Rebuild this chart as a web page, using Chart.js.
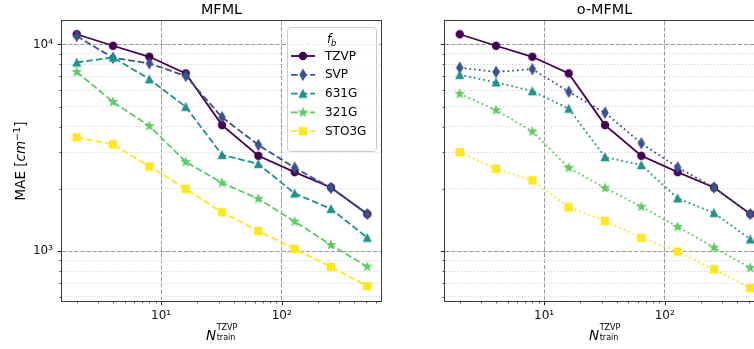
<!DOCTYPE html>
<html lang="en">
<head>
  <meta charset="UTF-8" />
  <title>MFML vs o-MFML learning curves</title>
  <script src="https://cdn.jsdelivr.net/npm/chart.js"></script>
  <style>
    * { margin: 0; padding: 0; box-sizing: border-box; }
    body { width: 754px; height: 349px; overflow: hidden; background: #fff; position: relative; }
    canvas { position: absolute; top: 0; }
    #mfml { left: 0; }
    #omfml { left: 390px; }
  </style>
</head>
<body>
  <canvas id="mfml" width="390" height="349"></canvas>
  <canvas id="omfml" width="380" height="349"></canvas>

  <script>
    const nTrain = [2, 4, 8, 16, 32, 64, 128, 256, 512];
    const fidelities = ['TZVP', 'SVP', '631G', '321G', 'STO3G'];

    // MAE [cm^-1], MFML panel
    const mfmlTZVP  = [11200, 9850, 8710, 7240, 4070, 2890, 2410, 2030, 1510];
    const mfmlSVP   = [10970, 8610, 8090, 7030, 4440, 3260, 2530, 2020, 1510];
    const mfml631G  = [8180, 8650, 6790, 4990, 2920, 2640, 1900, 1600, 1160];
    const mfml321G  = [7360, 5270, 4030, 2700, 2140, 1790, 1390, 1070, 840];
    const mfmlSTO3G = [3550, 3280, 2570, 2000, 1540, 1250, 1025, 838, 677];

    // MAE [cm^-1], o-MFML panel
    const omfmlTZVP  = [11200, 9850, 8710, 7240, 4070, 2890, 2410, 2030, 1510];
    const omfmlSVP   = [7710, 7360, 7590, 5900, 4670, 3320, 2540, 2030, 1510];
    const omfml631G  = [7130, 6550, 5940, 4890, 2850, 2610, 1800, 1530, 1140];
    const omfml321G  = [5770, 4810, 3790, 2530, 2020, 1640, 1310, 1040, 830];
    const omfmlSTO3G = [3010, 2500, 2200, 1630, 1400, 1160, 993, 815, 662];

    const xTicks = [2, 3, 4, 5, 6, 7, 8, 9, 10, 20, 30, 40, 50, 60, 70, 80, 90, 100, 200, 300, 400, 500, 600];
    const yTicks = [600, 700, 800, 900, 1000, 2000, 3000, 4000, 5000, 6000, 7000, 8000, 9000, 10000];
    const xMajor = [10, 100];
    const yMajor = [1000, 10000];
    const xTickLabels = { 10: '10¹', 100: '10²' };
    const yTickLabels = { 1000: '10³', 10000: '10⁴' };

    const colors = ['#440154', '#3b528b', '#21918c', '#5ec962', '#fde725'];
    const markers = ['circle', 'thinDiamond', 'triangle', 'star', 'square'];
    const FONT = '"DejaVu Sans", sans-serif';

    // matplotlib-like markers drawn once into small canvases
    function markerCanvas(shape, color) {
      const c = document.createElement('canvas');
      c.width = 16; c.height = 16;
      const g = c.getContext('2d');
      g.translate(8, 8);
      g.beginPath();
      if (shape === 'circle') {
        g.arc(0, 0, 3.6, 0, Math.PI * 2);
      } else if (shape === 'thinDiamond') {
        g.moveTo(0, -5.1); g.lineTo(3.05, 0); g.lineTo(0, 5.1); g.lineTo(-3.05, 0); g.closePath();
      } else if (shape === 'triangle') {
        g.moveTo(0, -3.6); g.lineTo(3.6, 3.6); g.lineTo(-3.6, 3.6); g.closePath();
      } else if (shape === 'star') {
        for (let i = 0; i < 10; i++) {
          const r = i % 2 ? 1.5 : 3.9;
          const a = -Math.PI / 2 + i * Math.PI / 5;
          g.lineTo(r * Math.cos(a), r * Math.sin(a));
        }
        g.closePath();
      } else {
        g.rect(-3.6, -3.6, 7.2, 7.2);
      }
      g.fillStyle = color;
      g.fill();
      g.lineWidth = 1.2;
      g.strokeStyle = color;
      g.stroke();
      return c;
    }
    const markerImgs = fidelities.map((f, i) => markerCanvas(markers[i], colors[i]));

    function makeDatasets(series, dash) {
      return fidelities.map((name, i) => ({
        label: name,
        data: nTrain.map((n, j) => ({ x: n, y: series[i][j] })),
        borderColor: colors[i],
        backgroundColor: colors[i],
        borderWidth: 1.8,
        borderDash: i === 0 ? [] : dash,
        pointStyle: markerImgs[i],
        pointRadius: 4,
        tension: 0,
        fill: false,
        order: fidelities.length - i
      }));
    }

    function makeScales(showYLabels, yWidth) {
      return {
        x: {
          type: 'logarithmic',
          min: 1.51,
          max: 665,
          afterBuildTicks: s => { s.ticks = xTicks.map(v => ({ value: v })); },
          afterFit: s => { s.height = 48; },
          ticks: {
            autoSkip: false, maxRotation: 0, padding: 8,
            font: { family: FONT, size: 12 }, color: '#111',
            callback: v => xTickLabels[v] || ''
          },
          grid: {
            drawTicks: false, lineWidth: 1,
            color: c => (c.tick && xMajor.includes(c.tick.value)) ? '#9a9a9a' : 'rgba(0,0,0,0)'
          },
          border: { display: false, dash: [4.3, 1.8] }
        },
        y: {
          type: 'logarithmic',
          min: 573,
          max: 12980,
          afterBuildTicks: s => { s.ticks = yTicks.map(v => ({ value: v })); },
          afterFit: s => { s.width = yWidth; },
          ticks: {
            display: showYLabels, autoSkip: false, padding: 9,
            font: { family: FONT, size: 12 }, color: '#111',
            callback: v => yTickLabels[v] || ''
          },
          grid: {
            drawTicks: false, lineWidth: 1,
            color: c => (c.tick && yMajor.includes(c.tick.value)) ? '#9a9a9a' : '#d4d4d4'
          },
          border: {
            display: false,
            dash: c => (c.tick && !yMajor.includes(c.tick.value)) ? [1.2, 2] : [4.3, 1.8]
          }
        }
      };
    }

    // draw a row of text runs centred on x
    function drawRuns(ctx, runs, cx, y) {
      const widths = runs.map(r => { ctx.font = r.font; return ctx.measureText(r.text).width; });
      const total = widths.reduce((s, w) => s + w, 0);
      let x = cx - total / 2;
      runs.forEach((r, i) => {
        ctx.font = r.font;
        ctx.fillText(r.text, x, y + (r.dy || 0));
        x += widths[i];
      });
    }

    // N with stacked superscript / subscript, centred on cx
    function drawXTitle(ctx, cx, y) {
      const fN = 'italic 13.5px ' + FONT;
      const fS = '8px ' + FONT;
      ctx.font = fN;
      const wN = ctx.measureText('N').width;
      ctx.font = fS;
      const wS = Math.max(ctx.measureText('TZVP').width, ctx.measureText('train').width);
      const x0 = cx - (wN + wS) / 2;
      ctx.font = fN;
      ctx.fillText('N', x0, y);
      ctx.font = fS;
      ctx.fillText('TZVP', x0 + wN + 0.5, y - 10);
      ctx.fillText('train', x0 + wN + 0.5, y + 0.5);
    }

    function decoPlugin(title, withLegend, dash) {
      return {
        id: 'deco',
        afterDraw(chart) {
          const { ctx, chartArea: a, scales } = chart;
          ctx.save();
          ctx.strokeStyle = '#222';

          // tick marks (major longer than minor)
          xTicks.forEach(v => {
            const px = Math.round(scales.x.getPixelForValue(v)) + 0.5;
            const major = xMajor.includes(v);
            ctx.lineWidth = major ? 1 : 0.8;
            ctx.beginPath();
            ctx.moveTo(px, a.bottom);
            ctx.lineTo(px, a.bottom + (major ? 4.2 : 2.4));
            ctx.stroke();
          });
          yTicks.forEach(v => {
            const py = Math.round(scales.y.getPixelForValue(v)) + 0.5;
            const major = yMajor.includes(v);
            ctx.lineWidth = major ? 1 : 0.8;
            ctx.beginPath();
            ctx.moveTo(a.left, py);
            ctx.lineTo(a.left - (major ? 4.2 : 2.4), py);
            ctx.stroke();
          });

          // axes frame
          ctx.strokeStyle = '#3a3a3a';
          ctx.lineWidth = 1;
          ctx.strokeRect(Math.round(a.left) - 0.5, Math.round(a.top) - 0.5,
            Math.round(a.right - a.left) + 1, Math.round(a.bottom - a.top) + 1);

          ctx.fillStyle = '#000';
          ctx.textBaseline = 'alphabetic';
          ctx.textAlign = 'left';
          const cx = (a.left + a.right) / 2;

          // panel title
          ctx.font = '14.4px ' + FONT;
          ctx.textAlign = 'center';
          ctx.fillText(title, cx, 14);
          ctx.textAlign = 'left';

          // x axis title: N_train^TZVP
          drawXTitle(ctx, cx, 339.5);

          if (withLegend) {
            // y axis title
            ctx.save();
            ctx.translate(25, (a.top + a.bottom) / 2);
            ctx.rotate(-Math.PI / 2);
            drawRuns(ctx, [
              { text: 'MAE [', font: '13.5px ' + FONT },
              { text: 'cm', font: 'italic 13.5px ' + FONT },
              { text: '\u22121', font: '9.5px ' + FONT, dy: -5.5 },
              { text: ']', font: '13.5px ' + FONT }
            ], 0, 0);
            ctx.restore();

            // legend
            const lx = 287, ly = 27, lw = 89, lh = 124;
            ctx.beginPath();
            ctx.roundRect(lx + 0.5, ly + 0.5, lw, lh, 3);
            ctx.fillStyle = 'rgba(255,255,255,0.8)';
            ctx.fill();
            ctx.strokeStyle = '#cccccc';
            ctx.lineWidth = 1;
            ctx.stroke();

            ctx.fillStyle = '#000';
            ctx.font = 'italic 12px ' + FONT;
            ctx.fillText('f', 327, 43);
            ctx.font = 'italic 8.5px ' + FONT;
            ctx.fillText('b', 331, 45.5);

            fidelities.forEach((name, i) => {
              const y = 56 + i * 18.8;
              ctx.strokeStyle = colors[i];
              ctx.lineWidth = 1.8;
              ctx.setLineDash(i === 0 ? [] : dash);
              ctx.beginPath();
              ctx.moveTo(291, y);
              ctx.lineTo(315, y);
              ctx.stroke();
              ctx.setLineDash([]);
              ctx.drawImage(markerImgs[i], 303 - 8, y - 8);
              ctx.fillStyle = '#000';
              ctx.font = '12px ' + FONT;
              ctx.textBaseline = 'middle';
              ctx.fillText(name, 325, y + 0.5);
              ctx.textBaseline = 'alphabetic';
            });
          }
          ctx.restore();
        }
      };
    }

    const dashed = [6.7, 2.9];
    const dotted = [1.8, 3];

    new Chart(document.getElementById('mfml'), {
      type: 'line',
      data: { datasets: makeDatasets([mfmlTZVP, mfmlSVP, mfml631G, mfml321G, mfmlSTO3G], dashed) },
      options: {
        responsive: false,
        animation: false,
        devicePixelRatio: 1,
        layout: { padding: { top: 21, right: 9, bottom: 0, left: 0 } },
        scales: makeScales(true, 62),
        plugins: { legend: { display: false }, tooltip: { enabled: false } }
      },
      plugins: [decoPlugin('MFML', true, dashed)]
    });

    new Chart(document.getElementById('omfml'), {
      type: 'line',
      data: { datasets: makeDatasets([omfmlTZVP, omfmlSVP, omfml631G, omfml321G, omfmlSTO3G], dotted) },
      options: {
        responsive: false,
        animation: false,
        devicePixelRatio: 1,
        layout: { padding: { top: 21, right: 6, bottom: 0, left: 0 } },
        scales: makeScales(false, 55),
        plugins: { legend: { display: false }, tooltip: { enabled: false } }
      },
      plugins: [decoPlugin('o-MFML', false, dotted)]
    });
  </script>
</body>
</html>
